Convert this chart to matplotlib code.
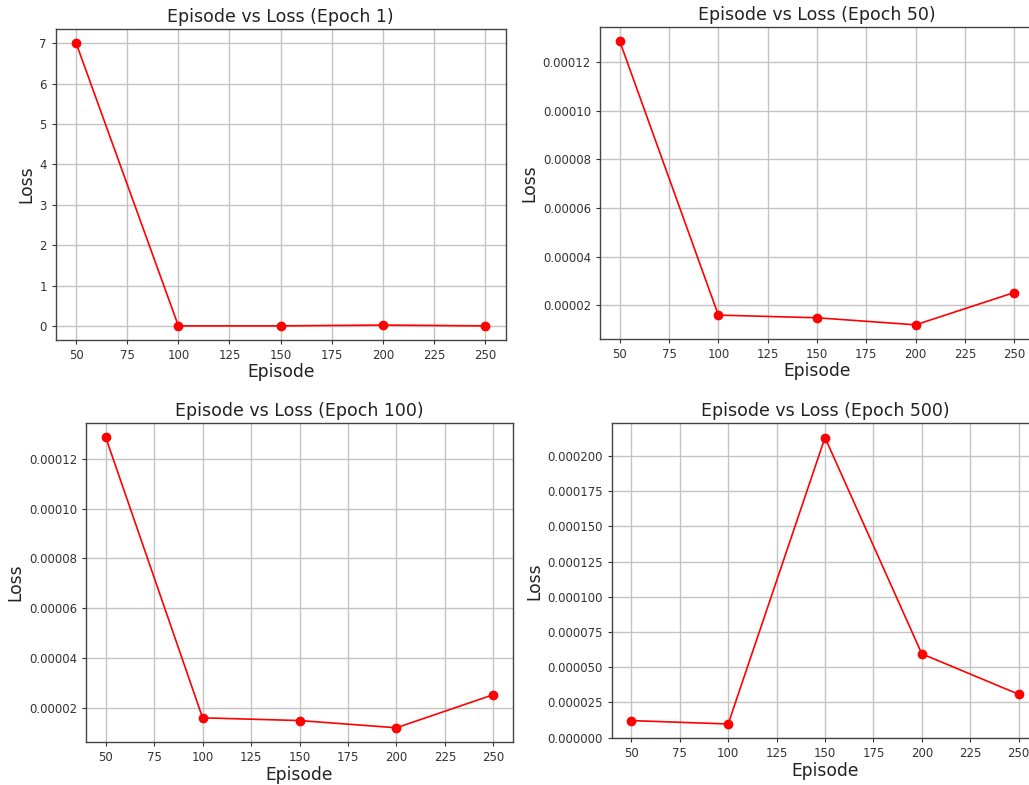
import matplotlib
matplotlib.use("Agg")
import matplotlib.pyplot as plt

episodes = [50, 100, 150, 200, 250]
loss_epoch1 = [7.0, 0.01, 0.01, 0.03, 0.01]
loss_epoch50 = [0.0001287, 0.0000159, 0.0000148, 0.0000119, 0.0000252]
loss_epoch100 = [0.0001287, 0.0000159, 0.0000148, 0.0000119, 0.0000252]
loss_epoch500 = [0.0000121, 0.0000097, 0.000213, 0.0000595, 0.0000308]
titles = ["Episode vs Loss (Epoch 1)", "Episode vs Loss (Epoch 50)",
          "Episode vs Loss (Epoch 100)", "Episode vs Loss (Epoch 500)"]
series = [loss_epoch1, loss_epoch50, loss_epoch100, loss_epoch500]

W, H = 1029, 785
fig = plt.figure(figsize=(W / 100, H / 100), dpi=100)
fig.patch.set_facecolor("white")

# axes boxes in pixels: left, right, top, bottom
boxes = [
    (55.7, 505.5, 29, 340),
    (600, 1034, 27, 339),
    (86.3, 512.7, 422.7, 742.3),
    (612, 1038, 423.3, 738.3),
]

for (l, r, t, b), ys, title in zip(boxes, series, titles):
    ax = fig.add_axes([l / W, 1 - b / H, (r - l) / W, (b - t) / H])
    ax.plot(episodes, ys, color="red", marker="o", markersize=6, linewidth=1.2)
    ax.set_title(title, fontsize=12.5, color="#222222", pad=5)
    ax.set_xlabel("Episode", fontsize=12.3, color="#222222", labelpad=1)
    ax.set_ylabel("Loss", fontsize=12.3, color="#222222", labelpad=3)
    ax.grid(True, color="#c4c4c4", linewidth=1.0)
    ax.set_axisbelow(True)
    ax.tick_params(labelsize=8.5, colors="#333333", length=3)
    for s in ax.spines.values():
        s.set_color("#444444")
        s.set_linewidth(1.0)

fig.savefig("out.png", dpi=100)
